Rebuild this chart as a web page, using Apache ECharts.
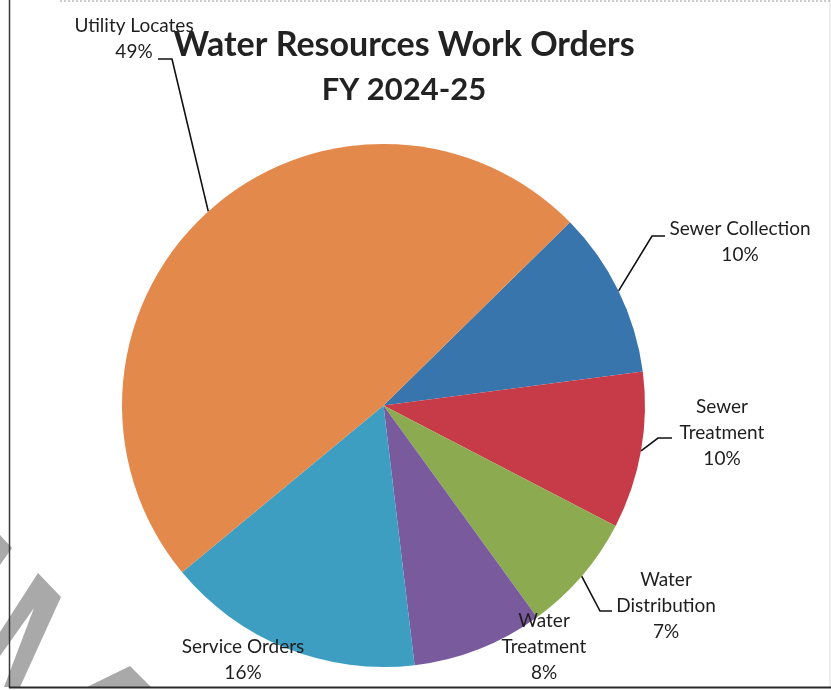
<!DOCTYPE html>
<html>
<head>
<meta charset="utf-8">
<script src="https://cdn.jsdelivr.net/npm/echarts@6/dist/echarts.min.js"></script>
<style>
  html, body { margin: 0; padding: 0; background: #ffffff; }
  #chart { width: 831px; height: 690px; }
</style>
</head>
<body>
<div id="chart"></div>
<script>
// ---- data ----
const categories = ['Sewer Collection', 'Sewer Treatment', 'Water Distribution', 'Water Treatment', 'Service Orders', 'Utility Locates'];
const labelNames = ['Sewer Collection', 'Sewer\nTreatment', 'Water\nDistribution', 'Water\nTreatment', 'Service Orders', 'Utility Locates'];
const shares = [10.3, 9.7, 7.4, 8.1, 15.9, 48.7];
const titleLines = ['Water Resources Work Orders', 'FY 2024-25'];

// ---- styling / layout (not data) ----
const colors = ['#3775ac', '#c73a48', '#8cab50', '#795a9c', '#3d9ec2', '#e3894c'];
const center = [383.5, 405.5];
const radius = 261.5;
const startAngle = 44.5;
// label block centres and leader-line elbows (annotation layout)
const labelPos = [
  { x: 740, y: 242, line: [[652, 236], [665, 236]] },
  { x: 722, y: 433, line: [[658, 438], [672, 438]] },
  { x: 666, y: 606, line: [[600, 611], [612, 611]] },
  { x: 544, y: 647, line: null },
  { x: 243, y: 660, line: null },
  { x: 134, y: 39,  line: [[172, 59], [158, 59]] }
];

const total = shares.reduce((a, b) => a + b, 0);
function fallbackAnchor(i) {
  let before = 0;
  for (let k = 0; k < i; k++) before += shares[k];
  const mid = (before + shares[i] / 2) / total * 2 * Math.PI;
  const a0 = startAngle * Math.PI / 180;
  const ang = a0 - mid;
  return [center[0] + radius * Math.cos(ang), center[1] - radius * Math.sin(ang)];
}

const chart = echarts.init(document.getElementById('chart'), null, { renderer: 'canvas' });

const option = {
  backgroundColor: '#ffffff',
  animation: false,
  title: {
    text: '{a|' + titleLines[0] + '}\n{b|' + titleLines[1] + '}',
    left: 399,
    top: 17,
    textAlign: 'center',
    textStyle: {
      fontFamily: 'Lato',
      fontWeight: 'bold',
      color: '#222222',
      rich: {
        a: { fontFamily: 'Lato', fontWeight: 'bold', fontSize: 34, lineHeight: 46, color: '#222222' },
        b: { fontFamily: 'Lato', fontWeight: 'bold', fontSize: 31, lineHeight: 44, color: '#222222' }
      }
    }
  },
  graphic: [
    // scanner watermark fragments
    { type: 'polygon', z: 1, shape: { points: [[0, 535], [12, 548], [0, 565]] }, style: { fill: '#a9a9a9' } },
    { type: 'polygon', z: 1, shape: { points: [[0, 632], [38, 573], [61, 597], [20, 687], [4, 687], [34, 608], [0, 656]] }, style: { fill: '#a9a9a9' } },
    { type: 'polygon', z: 1, shape: { points: [[85, 688], [130, 666], [152, 688]] }, style: { fill: '#a9a9a9' } },
    // frame lines
    { type: 'rect', z: 1, shape: { x: 829, y: 0, width: 2, height: 687 }, style: { fill: '#eeeeee' } },
    { type: 'line', z: 2, shape: { x1: 9.5, y1: 0, x2: 9.5, y2: 688 }, style: { stroke: '#3a3a3a', lineWidth: 1.5 } },
    { type: 'line', z: 2, shape: { x1: 9, y1: 687.5, x2: 831, y2: 687.5 }, style: { stroke: '#2a2a2a', lineWidth: 2 } },
    { type: 'line', z: 2, shape: { x1: 60, y1: 1, x2: 831, y2: 1 }, style: { stroke: '#9a9a9a', lineWidth: 1, lineDash: [2, 2] } }
  ],
  series: [{
    type: 'pie',
    center: center,
    radius: radius,
    startAngle: startAngle,
    clockwise: true,
    avoidLabelOverlap: false,
    percentPrecision: 0,
    itemStyle: { borderWidth: 0 },
    emphasis: { disabled: true },
    label: {
      show: true,
      position: 'outside',
      formatter: (p) => labelNames[p.dataIndex] + '\n' + p.percent + '%',
      fontFamily: 'Lato',
      fontSize: 19,
      lineHeight: 26,
      color: '#1e1e1e',
      align: 'center'
    },
    labelLine: {
      show: true,
      length: 20,
      length2: 10,
      lineStyle: { color: '#111111', width: 1.6 }
    },
    labelLayout: function (params) {
      const i = params.dataIndex;
      const lp = labelPos[i];
      const res = { x: lp.x, y: lp.y, align: 'center', verticalAlign: 'middle', hideOverlap: false };
      if (lp.line) {
        const anchor = (params.labelLinePoints && params.labelLinePoints[0]) ? params.labelLinePoints[0] : fallbackAnchor(i);
        res.labelLinePoints = [anchor, lp.line[0], lp.line[1]];
      }
      return res;
    },
    data: categories.map((name, i) => ({
      name: name,
      value: shares[i],
      itemStyle: { color: colors[i] },
      labelLine: { show: labelPos[i].line !== null }
    }))
  }]
};

chart.setOption(option);
</script>
</body>
</html>
